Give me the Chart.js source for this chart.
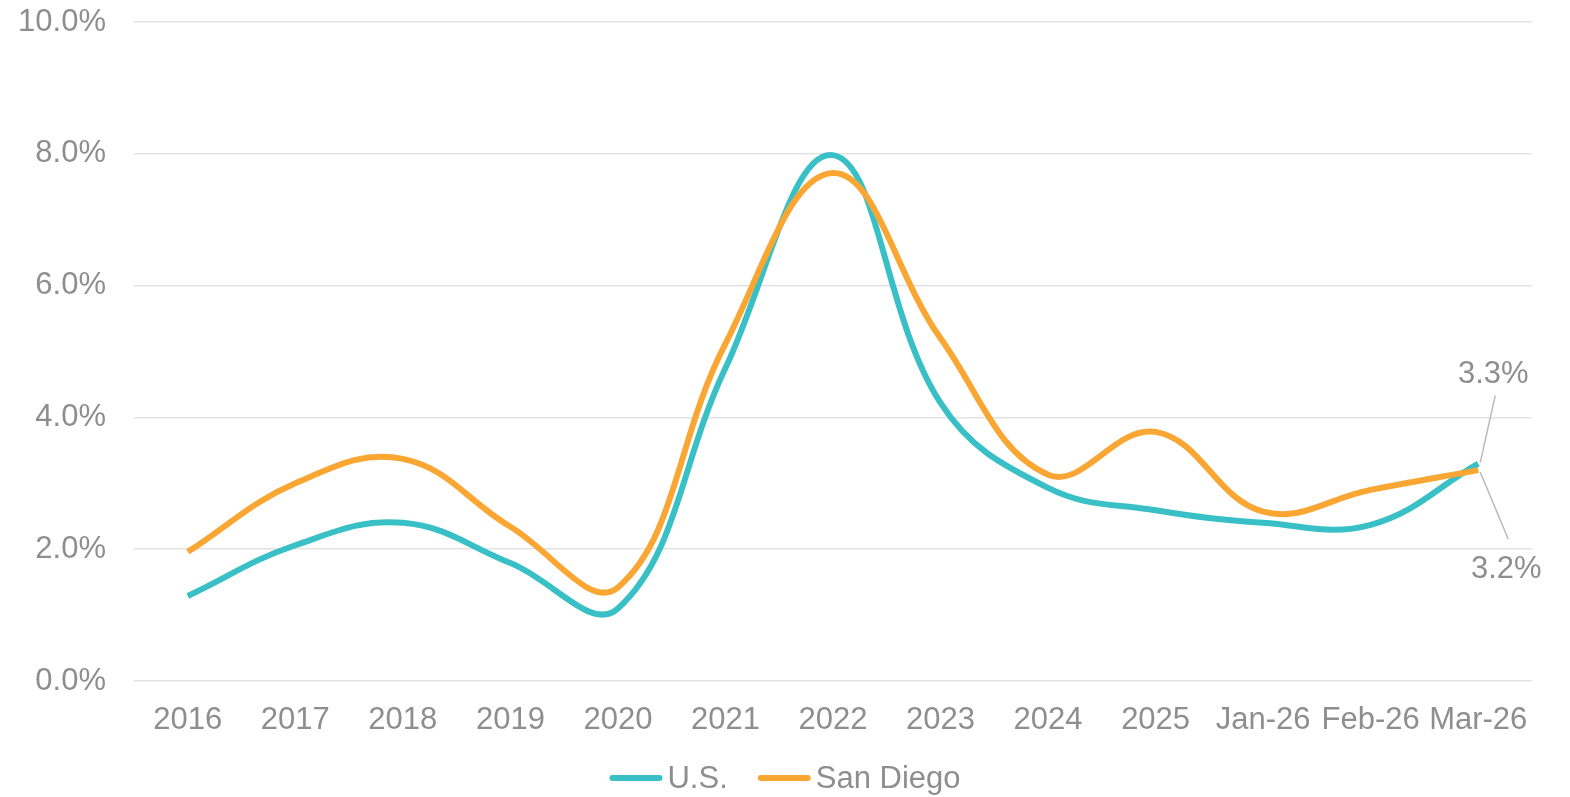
<!DOCTYPE html>
<html>
<head>
<meta charset="utf-8">
<script src="https://cdn.jsdelivr.net/npm/chart.js@4"></script>
<style>
  html, body { margin: 0; padding: 0; background: #fff; }
  #wrap { width: 1570px; height: 797px; position: relative; }
</style>
</head>
<body>
<div id="wrap"><canvas id="c" width="1570" height="797"></canvas></div>
<script>
const categories = ['2016','2017','2018','2019','2020','2021','2022','2023','2024','2025','Jan-26','Feb-26','Mar-26'];
const usValues = [1.29, 2.06, 2.40, 1.79, 1.10, 4.75, 7.98, 4.22, 2.93, 2.59, 2.40, 2.37, 3.3];
const sdValues = [1.96, 3.00, 3.37, 2.34, 1.42, 5.12, 7.71, 5.20, 3.13, 3.78, 2.57, 2.90, 3.2];
const yTicks = [0, 2, 4, 6, 8, 10];

const TEAL = '#38C0C6';
const ORANGE = '#F9A633';
const TEXT = '#8E8E8E';
const FONT = '"Liberation Sans", Arial, sans-serif';
const FS = 31;

const endLabels = {
  id: 'endLabels',
  afterDatasetsDraw(chart) {
    const ctx = chart.ctx;
    const cfg = [
      { ds: 0, dx: 15, dy: -89, l0: [2, -1], l1: [17, -68] },
      { ds: 1, dx: 28, dy: 99, l0: [2, 2], l1: [30, 69] }
    ];
    ctx.save();
    cfg.forEach(c => {
      const meta = chart.getDatasetMeta(c.ds);
      const pt = meta.data[meta.data.length - 1];
      const vals = chart.data.datasets[c.ds].data;
      const v = vals[vals.length - 1];
      ctx.strokeStyle = '#BDBDBD';
      ctx.lineWidth = 1.5;
      ctx.beginPath();
      ctx.moveTo(pt.x + c.l0[0], pt.y + c.l0[1]);
      ctx.lineTo(pt.x + c.l1[0], pt.y + c.l1[1]);
      ctx.stroke();
      ctx.fillStyle = TEXT;
      ctx.font = FS + 'px ' + FONT;
      ctx.textAlign = 'center';
      ctx.textBaseline = 'middle';
      ctx.fillText(v.toFixed(1) + '%', pt.x + c.dx, pt.y + c.dy);
    });
    ctx.restore();
  }
};

const customLegend = {
  id: 'customLegend',
  afterDraw(chart) {
    const ctx = chart.ctx;
    ctx.save();
    ctx.font = FS + 'px ' + FONT;
    const items = chart.data.datasets.map(d => ({ label: d.label, color: d.borderColor }));
    const sample = 53, gap = 5, between = 30;
    let total = 0;
    items.forEach((it, i) => {
      it.w = ctx.measureText(it.label).width;
      total += sample + gap + it.w + (i < items.length - 1 ? between : 0);
    });
    let x = chart.width / 2 - total / 2;
    const y = 778;
    items.forEach(it => {
      ctx.strokeStyle = it.color;
      ctx.lineWidth = 6;
      ctx.lineCap = 'round';
      ctx.beginPath();
      ctx.moveTo(x + 3, y);
      ctx.lineTo(x + sample - 3, y);
      ctx.stroke();
      x += sample + gap;
      ctx.fillStyle = TEXT;
      ctx.textAlign = 'left';
      ctx.textBaseline = 'middle';
      ctx.fillText(it.label, x, y + 1);
      x += it.w + between;
    });
    ctx.restore();
  }
};

new Chart(document.getElementById('c'), {
  type: 'line',
  data: {
    labels: categories,
    datasets: [
      { label: 'U.S.', data: usValues, borderColor: TEAL, backgroundColor: TEAL, borderWidth: 6, tension: 0.4, pointRadius: 0, order: 1, fill: false },
      { label: 'San Diego', data: sdValues, borderColor: ORANGE, backgroundColor: ORANGE, borderWidth: 6, tension: 0.4, pointRadius: 0, order: 0, fill: false }
    ]
  },
  options: {
    responsive: false,
    animation: false,
    devicePixelRatio: 1,
    layout: { padding: { top: 0, right: 38, left: 0, bottom: 0 } },
    plugins: { legend: { display: false }, tooltip: { enabled: false } },
    scales: {
      x: {
        offset: true,
        grid: { display: false, drawTicks: false },
        border: { display: false },
        ticks: { color: TEXT, font: { family: FONT, size: FS }, padding: 21, maxRotation: 0, autoSkip: false },
        afterFit(s) { s.height = 116; s.paddingLeft = 0; s.paddingRight = 0; }
      },
      y: {
        min: 0, max: 10,
        afterBuildTicks(s) { s.ticks = yTicks.map(v => ({ value: v })); },
        grid: { color: '#E3E3E3', lineWidth: 1.5, drawTicks: false },
        border: { display: false },
        ticks: { color: TEXT, font: { family: FONT, size: FS }, padding: 28, callback: v => v.toFixed(1) + '%' },
        afterFit(s) { s.width = 134; s.paddingTop = 22; s.paddingBottom = 0; }
      }
    }
  },
  plugins: [endLabels, customLegend]
});
</script>
</body>
</html>
